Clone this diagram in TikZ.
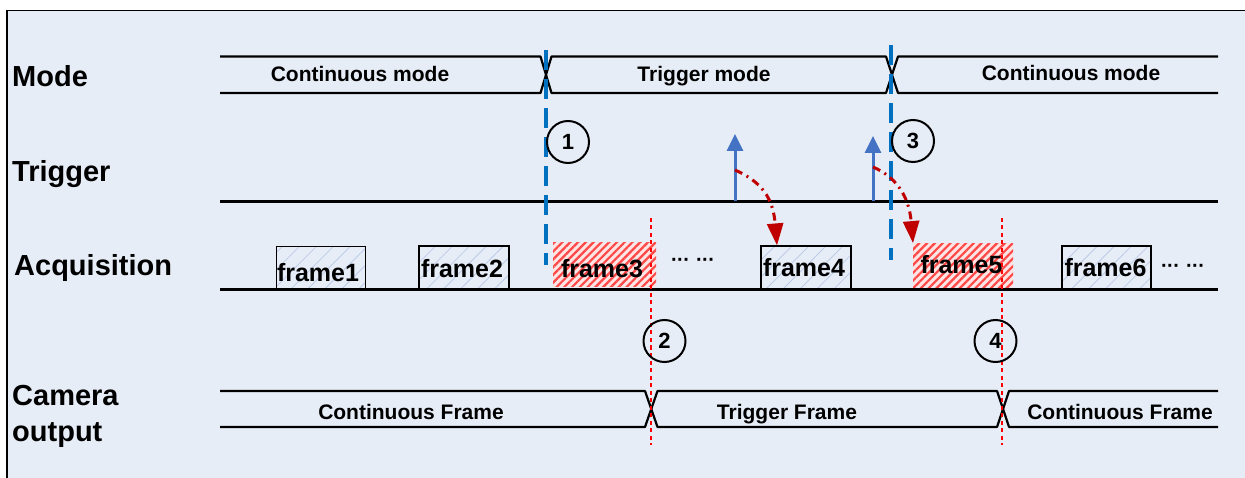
\documentclass[tikz,border=0pt]{standalone}
\usepackage{fontspec}
\setmainfont{Liberation Sans}
\usetikzlibrary{arrows.meta,patterns.meta}
\definecolor{bg}{RGB}{231,237,247}
\definecolor{tblue}{RGB}{68,114,196}
\definecolor{dblue}{RGB}{0,112,192}
\definecolor{dred}{RGB}{192,0,0}
\definecolor{hblue}{RGB}{188,204,232}
\definecolor{hred}{RGB}{255,72,72}
\definecolor{hpink}{RGB}{255,228,228}
\begin{document}
\begin{tikzpicture}[x=1pt,y=-1pt,
  bus/.style={line width=2.2pt, line join=round},
  rowlabel/.style={anchor=base west, inner sep=0pt, font=\fontsize{29}{32}\selectfont\bfseries},
  buslabel/.style={anchor=base, inner sep=0pt, font=\fontsize{21}{24}\selectfont\bfseries},
  framelabel/.style={anchor=base, inner sep=0pt, font=\fontsize{25}{28}\selectfont\bfseries},
  dotslabel/.style={anchor=center, inner sep=0pt, font=\fontsize{20}{24}\selectfont\bfseries},
  bframe/.style={draw, line width=1.6pt, rectangle, inner sep=0pt, anchor=south west,
     pattern={Lines[angle=45,distance=12pt,line width=0.8pt]}, pattern color=hblue},
  rframe/.style={rectangle, inner sep=0pt, anchor=south west,
     preaction={fill=hpink},
     pattern={Lines[angle=45,distance=5.5pt,line width=2.2pt]}, pattern color=hred},
  bdash/.style={dblue, line width=4pt, dash pattern=on 20pt off 9pt},
  rdot/.style={red, line width=2.4pt, dash pattern=on 4pt off 3.5pt},
  circnum/.style={draw, circle, line width=2pt, minimum size=42pt, inner sep=0pt,
     font=\fontsize{22}{24}\selectfont\bfseries},
  tarrow/.style={tblue, line width=3pt, -{Triangle[length=17pt,width=16pt]}},
  rarrow/.style={dred, line width=3pt, dash pattern=on 8pt off 5pt on 2pt off 5pt,
     -{Triangle[length=22pt,width=16pt]}}
]
\useasboundingbox (0,0) rectangle (1245,478);
% background and border
\fill[white] (0,0) rectangle (1245,478);
\fill[bg] (7,10.5) rectangle (1245,478);
\draw[line width=1.8pt] (7,478) -- (7,10.5) -- (1245,10.5);

% row labels
\node[rowlabel] (lmode) at (12,87) {Mode};
\node[rowlabel] (ltrig) at (12,181.5) {Trigger};
\node[rowlabel] (lacq) at (14,276) {Acquisition};
\node[rowlabel] (lcam) at (12,405) {Camera};
\node[rowlabel] (lout) at (12,441.5) {output};

% mode bus
\draw[bus] (220,56.5) -- (540.5,56.5) -- (551.5,93) -- (886,93) -- (898,56.5) -- (1218,56.5);
\draw[bus] (220,93) -- (540.5,93) -- (551.5,56.5) -- (886,56.5) -- (898,93) -- (1218,93);
\node[buslabel] (m1) at (360,82) {Continuous mode};
\node[buslabel] (m2) at (704,82) {Trigger mode};
\node[buslabel] (m3) at (1071,81) {Continuous mode};

% trigger line
\draw[bus] (220,201.5) -- (1218,201.5);

% acquisition line and frames
\draw[bus] (220,289.5) -- (1218,289.5);
\node[bframe, minimum width=89pt, minimum height=42.5pt] (f1box) at (276,289.5) {};
\node[bframe, minimum width=90pt, minimum height=42.5pt] (f2box) at (418,289.5) {};
\node[rframe, minimum width=103pt, minimum height=44pt] (f3box) at (552,288) {};
\node[bframe, minimum width=90pt, minimum height=42.5pt] (f4box) at (760,289.5) {};
\node[rframe, minimum width=100pt, minimum height=44pt] (f5box) at (913,287.5) {};
\node[bframe, minimum width=89pt, minimum height=42.5pt] (f6box) at (1061,289.5) {};
\node[framelabel] (f1) at (318,282) {frame1};
\node[framelabel] (f2) at (462,278) {frame2};
\node[framelabel] (f3) at (602,278) {frame3};
\node[framelabel] (f4) at (804,277) {frame4};
\node[framelabel] (f5) at (961.5,273.5) {frame5};
\node[framelabel] (f6) at (1105.5,277) {frame6};
\node[dotslabel] (dots1) at (693,262) {\textperiodcentered\kern-0.5pt\textperiodcentered\kern-0.5pt\textperiodcentered\hspace{6pt}\textperiodcentered\kern-0.5pt\textperiodcentered\kern-0.5pt\textperiodcentered};
\node[dotslabel] (dots2) at (1183,268) {\textperiodcentered\kern-0.5pt\textperiodcentered\kern-0.5pt\textperiodcentered\hspace{6pt}\textperiodcentered\kern-0.5pt\textperiodcentered\kern-0.5pt\textperiodcentered};

% camera output bus
\draw[bus] (220,391) -- (645,391) -- (657.5,427) -- (997,427) -- (1009,391) -- (1218,391);
\draw[bus] (220,427) -- (645,427) -- (657.5,391) -- (997,391) -- (1009,427) -- (1218,427);
\node[buslabel] (c1t) at (411,419) {Continuous Frame};
\node[buslabel] (c2t) at (787,419.5) {Trigger Frame};
\node[buslabel] (c3t) at (1120,419) {Continuous Frame};

% blue dashed mode switches
\coordinate (b1t) at (546,50);
\coordinate (b1b) at (546,265);
\coordinate (b2t) at (891,45);
\coordinate (b2b) at (891,260);
\draw[bdash] (b1t) -- (b1b);
\draw[bdash] (b2t) -- (b2b);

% red dotted output switches
\coordinate (r2t) at (651,218);
\coordinate (r2b) at (651,445);
\coordinate (r4t) at (1002,218);
\coordinate (r4b) at (1002,445);
\draw[rdot] (r2t) -- (r2b);
\draw[rdot] (r4t) -- (r4b);

% circled numbers
\node[circnum] (n1) at (568,142) {1};
\node[circnum] (n3) at (913,141) {3};
\node[circnum] (n2) at (664.5,341) {2};
\node[circnum] (n4) at (995.5,341) {4};

% trigger pulses
\coordinate (t1b) at (735,201.5);
\coordinate (t1t) at (735,134);
\coordinate (t2b) at (873,201.5);
\coordinate (t2t) at (873,136);
\draw[tarrow] (t1b) -- (t1t);
\draw[tarrow] (t2b) -- (t2t);

% trigger to frame arrows
\coordinate (s1) at (735,170);
\coordinate (s2) at (873,167);
\draw[rarrow] (s1) .. controls (762,182) and (773,198) .. (f4box.north west -| 777,0);
\draw[rarrow] (s2) .. controls (896,177) and (909,196) .. (f5box.north west);
\end{tikzpicture}
\end{document}
